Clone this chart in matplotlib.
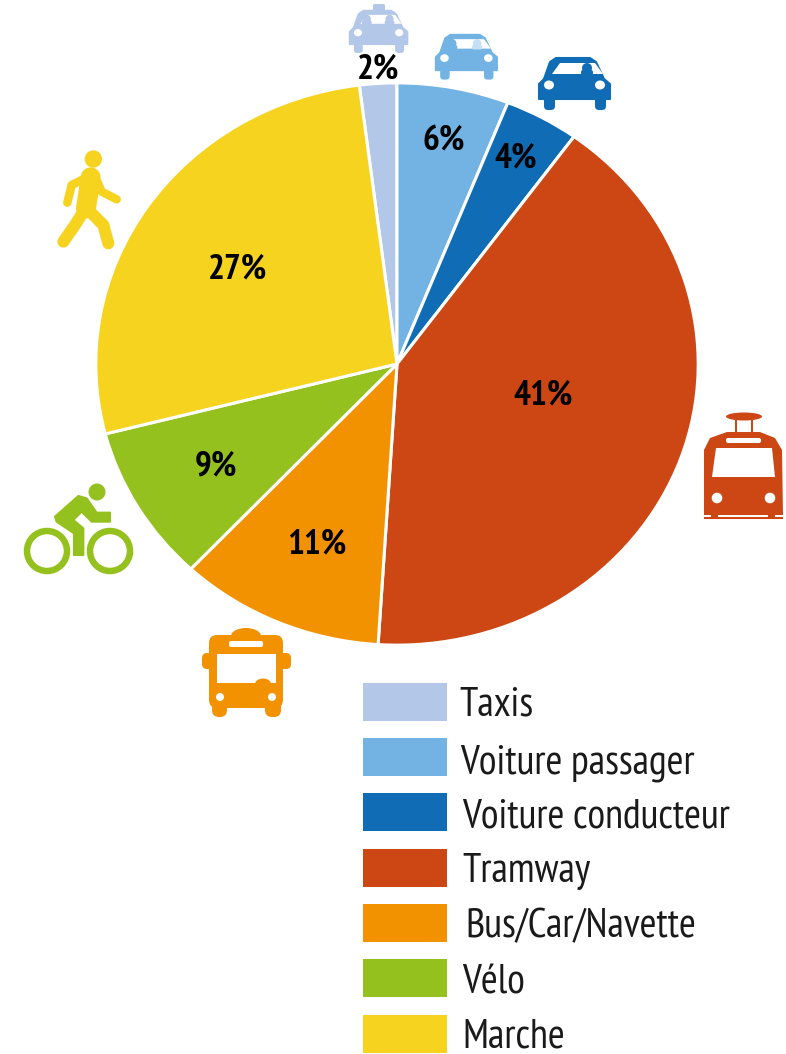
#!/usr/bin/env python3

import numpy as np
import matplotlib
matplotlib.use('Agg')
import matplotlib.pyplot as plt
from matplotlib.patches import Polygon, Ellipse, FancyBboxPatch, Circle, Rectangle

categories = ['Taxis', 'Voiture passager', 'Voiture conducteur', 'Tramway',
              'Bus/Car/Navette', 'Vélo', 'Marche']
values = [2, 6, 4, 41, 11, 9, 27]
colors = ['#b3c7e8', '#72b3e4', '#106db5', '#cc4713', '#f39200', '#95c11f', '#f6d31f']

# layout, in picture pixels
W, H = 786, 1054
label_xy = [(378, 69), (444, 141), (516, 158), (543, 395), (317, 544), (216, 466), (238, 269)]
box_top = [683, 738, 793, 849, 904, 959, 1015]
text_x = [459, 460, 462, 462, 465, 462, 462]
text_base = [715, 773, 828, 882, 937, 993, 1048]

plt.rcParams['font.family'] = ['PT Sans Narrow', 'Roboto Condensed', 'Liberation Sans', 'DejaVu Sans']

fig = plt.figure(figsize=(W / 100, H / 100), dpi=100)

# pie is squashed in the original: 600 wide, 560 high
ax = fig.add_axes([97 / W, 1 - 644 / H, 600 / W, 560 / H])
ax.pie(values, colors=colors, startangle=90 + 360 * values[0] / sum(values), counterclock=False,
       radius=1.004, wedgeprops={'edgecolor': 'white', 'linewidth': 2.2})
ax.set_aspect('auto')
ax.set_xlim(-1, 1)
ax.set_ylim(-1, 1)

# overlay in pixels for labels, legend and icons
ov = fig.add_axes([0, 0, 1, 1], zorder=5)
ov.set_xlim(0, W)
ov.set_ylim(H, 0)
ov.axis('off')
ov.patch.set_alpha(0)

for v, (x, y) in zip(values, label_xy):
    ov.text(x, y, f'{v}%', ha='center', va='center', fontsize=25.5, fontweight='bold', color='black')

for name, col, top, tx, base in zip(categories, colors, box_top, text_x, text_base):
    ov.add_patch(Rectangle((363, top), 84, 38, facecolor=col, edgecolor='none'))
    ov.text(tx, base, name, ha='left', va='baseline', fontsize=29.3, color='#1a1a1a')


def rbox(x0, y0, x1, y1, r, col):
    ov.add_patch(FancyBboxPatch((x0 + r, y0 + r), x1 - x0 - 2 * r, y1 - y0 - 2 * r,
                                boxstyle=f'round,pad={r},rounding_size={r}',
                                facecolor=col, edgecolor='none'))


def poly(pts, col, ox=0, oy=0, s=1.0, lw=0):
    pts = np.array(pts, dtype=float) * s + [ox, oy]
    ov.add_patch(Polygon(pts, closed=True, facecolor=col, edgecolor=col if lw else 'none',
                         linewidth=lw, joinstyle='round'))


def stroke(pts, col, px, ox=0, oy=0, s=1.0):
    pts = np.array(pts, dtype=float) * s + [ox, oy]
    ov.plot(pts[:, 0], pts[:, 1], color=col, linewidth=px * 0.72, solid_capstyle='round',
            solid_joinstyle='round')


def car(ox, oy, s, col, heads):
    poly([(1, 42), (1, 27), (6, 22), (12, 5), (18, 1), (52, 1), (58, 5), (66, 22), (72, 27), (72, 42)],
         col, ox, oy, s, lw=1.5)
    rbox(ox + 6 * s, oy + 36 * s, ox + 17 * s, oy + 53 * s, 4 * s, col)
    rbox(ox + 57 * s, oy + 36 * s, ox + 68 * s, oy + 53 * s, 4 * s, col)
    poly([(14, 17), (22, 6), (57, 6), (65, 17)], 'white', ox, oy, s)
    for hx, hcol in heads:
        ov.add_patch(Circle((ox + hx * s, oy + 11 * s), 5 * s, facecolor=hcol, edgecolor='none'))
        rbox(ox + (hx - 6) * s, oy + 13 * s, ox + (hx + 6) * s, oy + 18 * s, 2 * s, hcol)
    for lx in (11, 62):
        ov.add_patch(Ellipse((ox + lx * s, oy + 28 * s), 10 * s, 9 * s, facecolor='white', edgecolor='none'))


# cars
car(538, 57, 1.0, colors[2], [(49, colors[2])])
car(435, 34, 0.86, colors[1], [(20, colors[1]), (49, '#c5e0f4')])
rbox(373, 4, 385, 12, 1.5, colors[0])
car(349, 10, 0.81, colors[0], [(22, colors[0]), (50, colors[0])])

# tramway
tc = colors[3]
poly([(704, 515), (704, 450), (710, 438), (727, 432), (760, 432), (775, 438), (782, 450), (783, 515)], tc)
poly([(716, 448), (772, 448), (775, 477), (712, 477)], 'white')
rbox(726, 438, 761, 443, 2, 'white')
for lx in (717, 770):
    ov.add_patch(Circle((lx, 498), 5.3, facecolor='white', edgecolor='none'))
ov.add_patch(Ellipse((744, 416.5), 36, 8, facecolor=tc, edgecolor='none'))
ov.add_patch(Rectangle((735, 418), 2, 15, facecolor=tc, edgecolor='none'))
ov.add_patch(Rectangle((751, 418), 2, 15, facecolor=tc, edgecolor='none'))
ov.add_patch(Rectangle((704, 517), 79, 2, facecolor=tc, edgecolor='none'))
ov.add_patch(Rectangle((711, 515), 7, 3, facecolor=tc, edgecolor='none'))
ov.add_patch(Rectangle((768, 515), 7, 3, facecolor=tc, edgecolor='none'))

# bus
bc = colors[4]
ov.add_patch(Ellipse((246, 636), 30, 16, facecolor=bc, edgecolor='none'))
rbox(202, 653, 291, 669, 5, bc)
rbox(209, 635, 283, 708, 8, bc)
rbox(212, 695, 227, 717, 7, bc)
rbox(265, 695, 281, 717, 7, bc)
ov.add_patch(Rectangle((217, 654), 59, 29, facecolor='white', edgecolor='none'))
ov.add_patch(Ellipse((263, 684), 16, 11, facecolor=bc, edgecolor='none'))
rbox(229, 641, 263, 647, 2, 'white')
for lx in (220, 272):
    ov.add_patch(Circle((lx, 697), 4, facecolor='white', edgecolor='none'))

# bike
gc = colors[5]
for wx in (47, 110):
    ov.add_patch(Circle((wx, 551), 20, facecolor='none', edgecolor=gc, linewidth=6.5 * 0.72))
ov.add_patch(Circle((97, 492), 8.5, facecolor=gc, edgecolor='none'))
poly([(165, 140), (235, 78), (260, 85), (290, 128), (330, 128), (330, 155), (275, 155), (245, 125),
      (220, 150), (250, 175), (250, 255), (222, 255), (222, 190), (170, 155)],
     gc, 0, 470, 1 / 3, lw=1.5)

# walker
yc = colors[6]
ov.add_patch(Circle((93.3, 159), 8.7, facecolor=yc, edgecolor='none'))
stroke([(152, 112), (138, 205)], yc, 20, 40, 140, 1 / 3)
stroke([(150, 108), (95, 135), (82, 188)], yc, 8.5, 40, 140, 1 / 3)
stroke([(172, 125), (185, 155), (230, 178)], yc, 8.5, 40, 140, 1 / 3)
stroke([(130, 215), (105, 255), (70, 305)], yc, 12, 40, 140, 1 / 3)
stroke([(140, 205), (190, 255), (205, 310)], yc, 12, 40, 140, 1 / 3)

fig.savefig('out.png', dpi=100)
